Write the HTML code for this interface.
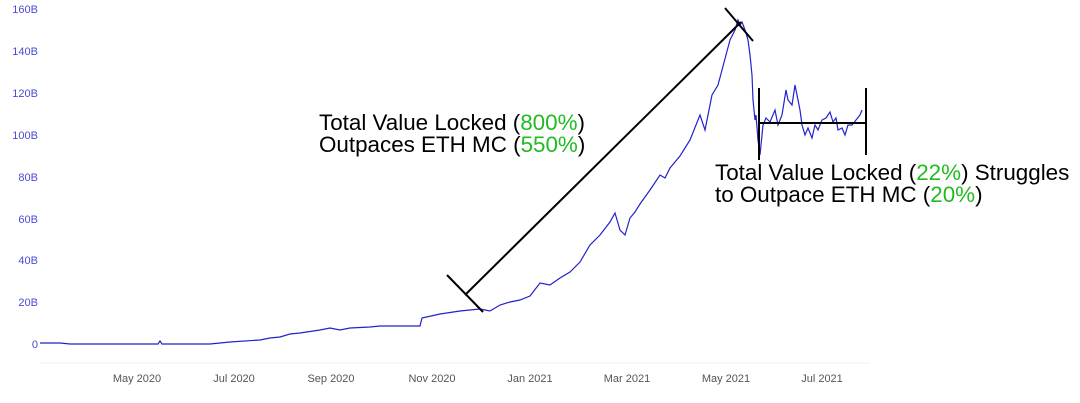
<!DOCTYPE html>
<html><head><style>
body{margin:0;background:#fff;}
svg{display:block;font-family:"Liberation Sans",sans-serif;}
</style></head><body>
<svg width="1080" height="403" viewBox="0 0 1080 403">
<g fill="#4b4bd6" font-size="11" text-anchor="end">
<text x="38" y="348">0</text><text x="38" y="306">20B</text><text x="38" y="264">40B</text>
<text x="38" y="223">60B</text><text x="38" y="181">80B</text><text x="38" y="139">100B</text>
<text x="38" y="97">120B</text><text x="38" y="55">140B</text><text x="38" y="13">160B</text>
</g>
<line x1="40" y1="363" x2="870" y2="363" stroke="#f2f2f2"/>
<g fill="#555" font-size="11" text-anchor="middle">
<text x="137" y="382">May 2020</text><text x="234" y="382">Jul 2020</text><text x="331" y="382">Sep 2020</text>
<text x="432" y="382">Nov 2020</text><text x="530" y="382">Jan 2021</text><text x="627" y="382">Mar 2021</text>
<text x="726" y="382">May 2021</text><text x="822" y="382">Jul 2021</text>
</g>
<polyline fill="none" stroke="#2222cc" stroke-width="1.2" points="40,343 60,343 70,344 130,344 158,344 160,341 162,344 210,344 230,342 260,340 270,338 280,337 290,334 300,333 320,330 330,328 340,330 350,328 370,327 380,326 400,326 420,326 422,318 440,314 460,311 480,309 490,311 500,305 510,302 520,300 530,296 540,283 550,285 560,278 570,272 580,262 590,245 600,235 610,222 615,213 620,230 625,235 630,218 635,212 640,204 650,190 660,175 665,178 670,168 680,156 690,140 700,115 705,130 712,95 718,85 722,70 726,55 730,40 735,30 738,20 740,25 742,22 745,30 748,40 750,55 752,75 753,100 755,120 756,115 758,140 760,155 761,145 763,125 766,118 770,122 775,110 778,125 782,115 786,90 788,100 792,105 795,85 798,100 800,110 802,125 805,135 808,128 812,138 815,125 818,130 822,120 826,118 830,112 833,122 836,118 838,130 842,128 845,135 848,125 852,125 856,120 860,115 862,110"/>
<g stroke="#000" stroke-width="2">
<line x1="465" y1="295" x2="741" y2="22"/>
<line x1="447" y1="275" x2="483" y2="312"/>
<line x1="725" y1="8" x2="753" y2="41"/>
<line x1="759" y1="88" x2="759" y2="160"/>
<line x1="866" y1="88" x2="866" y2="155"/>
<line x1="759" y1="123" x2="866" y2="123"/>
</g>
<g font-size="22.4" fill="#000">
<text x="319" y="130">Total Value Locked (<tspan fill="#22bb22">800%</tspan>)</text>
<text x="319" y="152">Outpaces ETH MC (<tspan fill="#22bb22">550%</tspan>)</text>
<text x="715" y="180">Total Value Locked (<tspan fill="#22bb22">22%</tspan>) Struggles</text>
<text x="715" y="202">to Outpace ETH MC (<tspan fill="#22bb22">20%</tspan>)</text>
</g>
</svg>
</body></html>
